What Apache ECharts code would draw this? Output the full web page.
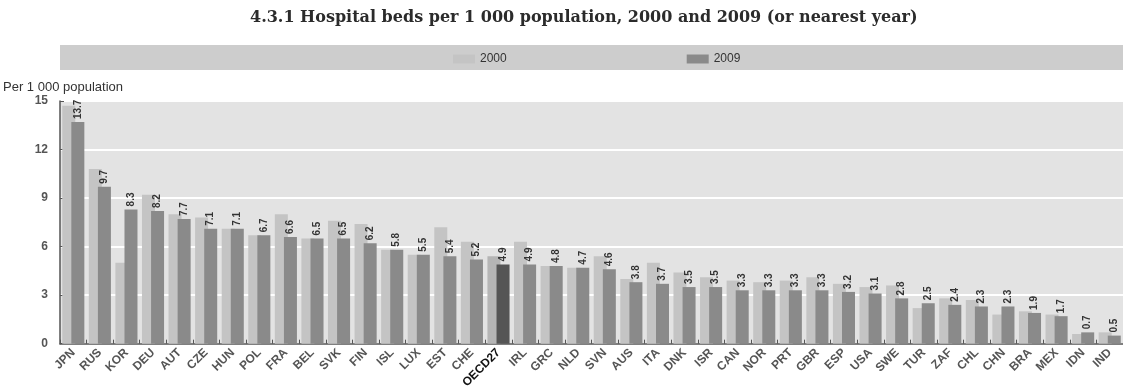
<!DOCTYPE html>
<html>
<head>
<meta charset="utf-8">
<script src="https://cdn.jsdelivr.net/npm/echarts@6/dist/echarts.min.js"></script>
<style>
  html, body { margin: 0; padding: 0; background: #fff; }
  #chart { width: 1123px; height: 391px; }
</style>
</head>
<body>
<div id="chart"></div>
<script>
const countries = ['JPN', 'RUS', 'KOR', 'DEU', 'AUT', 'CZE', 'HUN', 'POL', 'FRA', 'BEL',
  'SVK', 'FIN', 'ISL', 'LUX', 'EST', 'CHE', 'OECD27', 'IRL', 'GRC', 'NLD',
  'SVN', 'AUS', 'ITA', 'DNK', 'ISR', 'CAN', 'NOR', 'PRT', 'GBR', 'ESP',
  'USA', 'SWE', 'TUR', 'ZAF', 'CHL', 'CHN', 'BRA', 'MEX', 'IDN', 'IND']
const beds2000 = [14.7, 10.8, 5.0, 9.2, 8.0, 7.8, 7.1, 6.7, 8.0, 6.5,
  7.6, 7.4, 5.8, 5.5, 7.2, 6.3, 5.4, 6.3, 4.8, 4.7,
  5.4, 4.0, 5.0, 4.4, 4.1, 3.9, 3.8, 3.9, 4.1, 3.7,
  3.5, 3.6, 2.2, 2.8, 2.7, 1.8, 2.0, 1.8, 0.6, 0.7]
const beds2009 = [13.7, 9.7, 8.3, 8.2, 7.7, 7.1, 7.1, 6.7, 6.6, 6.5,
  6.5, 6.2, 5.8, 5.5, 5.4, 5.2, 4.9, 4.9, 4.8, 4.7,
  4.6, 3.8, 3.7, 3.5, 3.5, 3.3, 3.3, 3.3, 3.3, 3.2,
  3.1, 2.8, 2.5, 2.4, 2.3, 2.3, 1.9, 1.7, 0.7, 0.5]
const yTicks = [0, 3, 6, 9, 12, 15]

const chart = echarts.init(document.getElementById('chart'))
const isOecd = (name) => name === 'OECD27'

const option = {
  animation: false,
  backgroundColor: '#fff',
  textStyle: { fontFamily: 'Liberation Sans, Arial, sans-serif' },
  title: {
    text: '4.3.1 Hospital beds per 1 000 population, 2000 and 2009 (or nearest year)',
    left: 245,
    top: 5,
    textStyle: {
      fontFamily: 'DejaVu Serif, serif',
      fontWeight: 'bold',
      fontSize: 16,
      color: '#2b2b2b'
    }
  },
  graphic: [
    {
      type: 'rect',
      shape: { x: 60, y: 45, width: 1063, height: 25 },
      style: { fill: '#cdcdcd' },
      z: -1
    },
    {
      type: 'text',
      left: 3,
      top: 81,
      style: {
        text: 'Per 1 000 population',
        fontSize: 13,
        fontFamily: 'Liberation Sans, Arial, sans-serif',
        fill: '#333'
      }
    }
  ],
  legend: {
    left: 448,
    top: 48,
    itemWidth: 22,
    itemHeight: 9,
    itemGap: 180,
    icon: 'rect',
    textStyle: { fontSize: 12, color: '#333' },
    data: ['2000', '2009']
  },
  grid: { left: 60, right: 0, top: 101, bottom: 46 },
  xAxis: {
    type: 'category',
    data: countries,
    axisLine: { lineStyle: { color: '#555', width: 1.5 } },
    axisTick: { show: true, inside: true, length: 4, lineStyle: { color: '#555' } },
    axisLabel: {
      rotate: 45,
      interval: 0,
      margin: 7,
      fontSize: 12,
      fontWeight: 'bold',
      color: '#555',
      formatter: (v) => (isOecd(v) ? '{b|' + v + '}' : v),
      rich: { b: { fontSize: 12, fontWeight: 'bold', color: '#111' } }
    }
  },
  yAxis: {
    type: 'value',
    min: 0,
    max: 15,
    interval: 3,
    axisLine: { show: true, lineStyle: { color: '#555', width: 1.5 } },
    axisTick: { show: true, inside: true, length: 4, lineStyle: { color: '#555' } },
    axisLabel: {
      fontSize: 12,
      fontWeight: 'bold',
      color: '#555',
      margin: 12,
      customValues: yTicks
    },
    splitLine: { show: true, lineStyle: { color: '#fff', width: 2 } },
    splitArea: { show: true, areaStyle: { color: ['#e3e3e3', '#e3e3e3'] } }
  },
  series: [
    {
      name: '2000',
      type: 'bar',
      barWidth: 13,
      barGap: '-30%',
      itemStyle: { color: '#c4c4c4' },
      data: beds2000.map((v, i) => ({
        value: v,
        itemStyle: isOecd(countries[i]) ? { color: '#b5b5b5' } : undefined
      }))
    },
    {
      name: '2009',
      type: 'bar',
      barWidth: 13,
      itemStyle: { color: '#8a8a8a' },
      label: {
        show: true,
        position: 'top',
        rotate: 90,
        align: 'left',
        verticalAlign: 'middle',
        distance: 3,
        fontSize: 10,
        fontWeight: 'bold',
        color: '#333',
        formatter: (p) => p.value.toFixed(1)
      },
      data: beds2009.map((v, i) => ({
        value: v,
        itemStyle: isOecd(countries[i]) ? { color: '#555' } : undefined
      }))
    }
  ]
}

chart.setOption(option)
window.addEventListener('resize', () => chart.resize())
</script>
</body>
</html>
